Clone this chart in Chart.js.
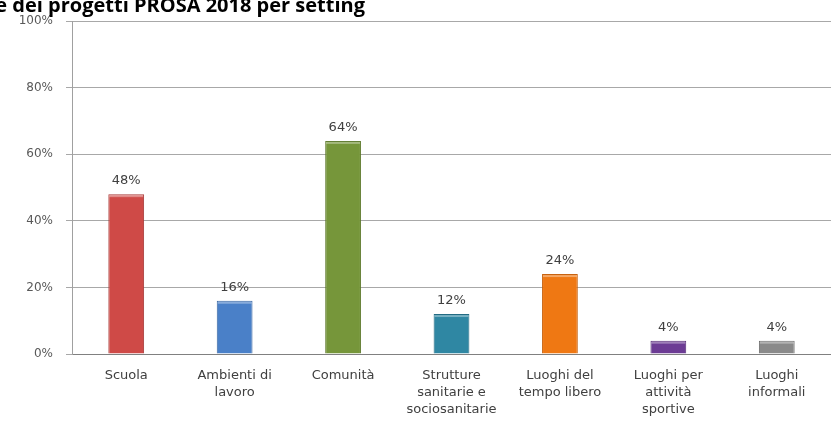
<!DOCTYPE html>
<html>
<head>
<meta charset="utf-8">
<script src="https://cdn.jsdelivr.net/npm/chart.js@4/dist/chart.umd.min.js"></script>
<style>
  html, body { margin: 0; padding: 0; background: #fff; }
  #wrap { position: relative; width: 831px; height: 424px; overflow: hidden; }
</style>
</head>
<body>
<div id="wrap"><canvas id="settingChart" width="831" height="424"></canvas></div>
<script>
const titleText = "Distribuzione percentuale dei progetti PROSA 2018 per setting";

const categories = [
  "Scuola",
  ["Ambienti di", "lavoro"],
  "Comunità",
  ["Strutture", "sanitarie e", "sociosanitarie"],
  ["Luoghi del", "tempo libero"],
  ["Luoghi per", "attività", "sportive"],
  ["Luoghi", "informali"]
];
const percent = [48, 16, 64, 12, 24, 4, 4];
const yTicks = [0, 20, 40, 60, 80, 100];

const barColors = ["#cf4a47", "#4a80c8", "#76963a", "#2f87a3", "#ef7813", "#6c3b94", "#8a8a8a"];
const barEdges  = ["#a83c3a", "#3a66a0", "#5e7a2c", "#236b83", "#c76210", "#532c74", "#6e6e6e"];

const labelFont = "'DejaVu Sans', Verdana, sans-serif";

/* titolo, tagliato a sinistra come nella slide */
const titlePlugin = {
  id: "titleText",
  afterDraw(chart) {
    const ctx = chart.ctx;
    ctx.save();
    ctx.font = "bold 20px 'Open Sans', Lato, sans-serif";
    ctx.fillStyle = "#000";
    ctx.textAlign = "right";
    ctx.textBaseline = "alphabetic";
    ctx.fillText(titleText, 365, 12);
    ctx.restore();
  }
};

/* etichette sopra le barre */
const valueLabels = {
  id: "valueLabels",
  afterDatasetsDraw(chart) {
    const ctx = chart.ctx;
    const meta = chart.getDatasetMeta(0);
    ctx.save();
    ctx.font = "13px " + labelFont;
    ctx.fillStyle = "#404040";
    ctx.textAlign = "center";
    ctx.textBaseline = "alphabetic";
    meta.data.forEach((bar, i) => {
      ctx.fillText(percent[i] + "%", bar.x, bar.y - 10);
    });
    ctx.restore();
  }
};

/* riflesso chiaro sul bordo superiore delle barre */
const barTop = {
  id: "barTop",
  afterDatasetsDraw(chart) {
    const ctx = chart.ctx;
    const meta = chart.getDatasetMeta(0);
    ctx.save();
    meta.data.forEach(bar => {
      const w = bar.width;
      ctx.fillStyle = "rgba(255,255,255,0.35)";
      ctx.fillRect(bar.x - w / 2 + 1, bar.y + 1, w - 2, 2);
    });
    ctx.restore();
  }
};

new Chart(document.getElementById("settingChart"), {
  type: "bar",
  data: {
    labels: categories,
    datasets: [{
      data: percent,
      backgroundColor: barColors,
      borderColor: barEdges,
      borderWidth: 1,
      categoryPercentage: 1,
      barPercentage: 0.33
    }]
  },
  options: {
    responsive: false,
    animation: false,
    layout: { padding: { top: 21, right: 0, left: 0, bottom: 0 } },
    plugins: { legend: { display: false }, tooltip: { enabled: false } },
    scales: {
      x: {
        grid: { display: false, drawTicks: false },
        border: { color: "#808080", width: 1 },
        ticks: {
          color: "#404040",
          font: { family: labelFont, size: 13, lineHeight: "17px" },
          padding: 13,
          maxRotation: 0,
          autoSkip: false
        },
        afterFit(scale) { scale.height = 70; }
      },
      y: {
        min: 0,
        max: 100,
        afterBuildTicks(scale) { scale.ticks = yTicks.map(v => ({ value: v })); },
        grid: { color: "#a8a8a8", lineWidth: 1, tickLength: 6 },
        border: { color: "#a0a0a0", width: 1 },
        ticks: {
          color: "#595959",
          font: { family: labelFont, size: 12 },
          padding: 13,
          callback: v => v + "%"
        },
        afterFit(scale) { scale.width = 72; }
      }
    }
  },
  plugins: [barTop, valueLabels, titlePlugin]
});
</script>
</body>
</html>
